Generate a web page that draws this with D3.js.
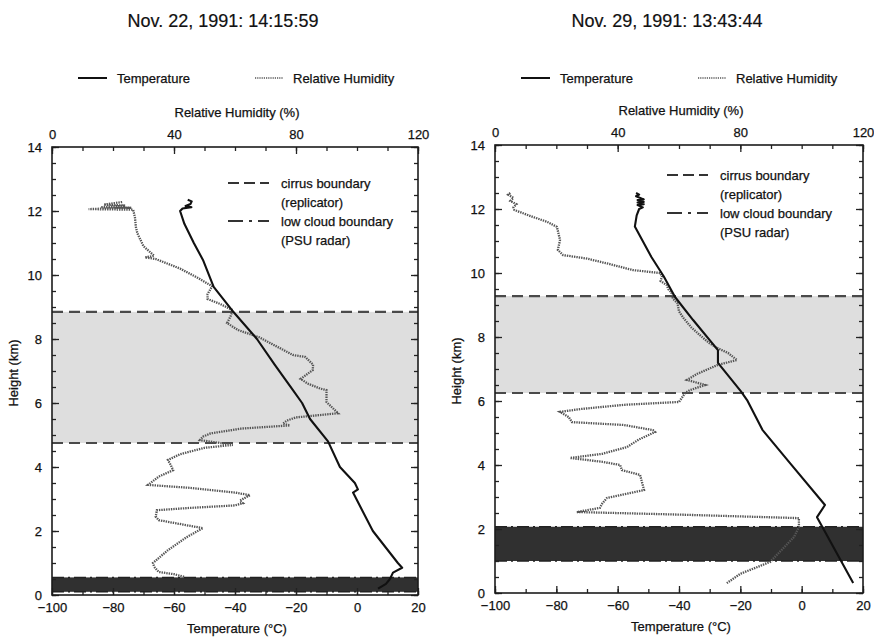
<!DOCTYPE html>
<html>
<head>
<meta charset="utf-8">
<script src="https://cdn.jsdelivr.net/npm/d3@7"></script>
<style>
  body { margin: 0; background: #fff; }
  svg { display: block; font-family: "Liberation Sans", Arial, sans-serif; }
  .tick text { font-size: 13px; fill: #111; stroke: #111; stroke-width: 0.25px; }
  .lbl { font-size: 13px; fill: #111; stroke: #111; stroke-width: 0.25px; }
</style>
</head>
<body>
<svg id="chart" width="874" height="638"></svg>
<script>
// ---- data: [height km, value] ----
const titles = ['Nov. 22, 1991: 14:15:59', 'Nov. 29, 1991: 13:43:44'];

const tempNov22 = [
  [12.35, -55.5], [12.3, -54.2], [12.22, -54.6], [12.16, -56.2], [12.12, -54.3],
  [12.08, -57.2], [12.0, -58.0], [11.6, -56.6], [11.0, -53.5], [10.47, -50.5],
  [9.63, -47.0], [8.9, -41.0], [8.0, -32.8], [7.2, -27.0], [6.4, -21.0],
  [6.0, -18.0], [5.5, -15.4], [4.8, -9.5], [4.0, -5.6], [3.5, -0.7],
  [3.3, 0.3], [3.2, -1.3], [2.0, 5.2], [1.0, 13.4], [0.85, 14.8],
  [0.7, 11.8], [0.5, 10.8], [0.35, 9.5], [0.2, 6.9]
];

const rhNov22 = [
  [12.28, 23], [12.2, 17], [12.17, 24], [12.12, 16], [12.1, 26], [12.06, 12],
  [12.04, 26.6], [11.8, 27.2], [11.5, 27.5], [11.3, 28], [10.9, 30], [10.6, 33.5],
  [10.55, 30.5], [10.5, 34], [10.2, 42], [9.9, 48], [9.65, 52.5], [9.4, 51],
  [9.25, 51], [9.1, 55], [8.9, 59.3], [8.7, 58.5], [8.5, 57.4], [8.4, 59],
  [8.28, 61], [8.05, 68], [7.7, 75], [7.5, 79], [7.44, 83], [7.2, 85.6],
  [7.03, 85.5], [6.75, 81.5], [6.6, 84], [6.45, 88], [6.4, 90], [6.03, 90],
  [5.8, 92.5], [5.68, 93.8], [5.55, 80], [5.45, 77], [5.35, 75.7], [5.3, 78],
  [5.2, 62], [5.05, 52], [4.95, 49.5], [4.84, 48.5], [4.75, 55], [4.69, 59.3],
  [4.6, 50], [4.4, 42], [4.22, 38], [4.05, 39], [3.9, 39.7], [3.7, 35],
  [3.44, 31.5], [3.35, 45], [3.2, 60], [3.12, 64.9], [2.95, 61.6], [2.87, 62.6],
  [2.8, 60], [2.72, 45], [2.65, 34.4], [2.45, 34], [2.34, 35], [2.2, 43],
  [2.09, 49.5], [1.8, 44], [1.4, 38], [1.0, 33.1], [0.88, 33.5], [0.72, 35],
  [0.65, 40], [0.56, 43.6]
];

const tempNov29 = [
  [12.5, -54.0], [12.45, -53.0], [12.4, -54.0], [12.3, -51.5], [12.28, -53.5],
  [12.22, -51.5], [12.2, -53.5], [12.15, -51.5], [12.12, -53.5], [12.05, -51.8],
  [12.0, -53.0], [11.8, -53.8], [11.45, -54.4], [10.5, -49.0], [9.9, -45.0],
  [9.25, -41.3], [8.53, -35.4], [7.59, -27.3], [7.19, -27.3], [6.3, -19.8],
  [6.03, -17.8], [5.1, -12.8], [4.06, -3.8], [2.75, 7.6], [2.37, 5.0], [0.31, 16.8]
];

const rhNov29 = [
  [12.5, 5], [12.45, 4.3], [12.35, 6], [12.25, 5], [12.15, 7], [12.05, 6],
  [11.97, 6.3], [11.75, 12.4], [11.6, 17], [11.44, 20.2], [11.03, 21.2],
  [10.72, 20.5], [10.56, 22.2], [10.45, 30], [10.3, 36.5], [10.09, 45],
  [10.0, 53.8], [9.9, 54.5], [9.75, 54], [9.62, 56], [9.5, 56.5], [9.4, 57.5],
  [9.2, 58], [9.06, 59.5], [8.8, 60], [8.59, 61.5], [8.3, 64], [8.0, 67.5],
  [7.8, 70], [7.66, 72.4], [7.5, 76], [7.28, 78.9], [7.13, 72.7], [6.85, 66],
  [6.66, 62.6], [6.5, 68.5], [6.34, 63.6], [6.25, 62], [5.97, 60], [5.88, 42],
  [5.75, 28], [5.66, 21.2], [5.5, 24], [5.34, 25.1], [5.25, 42], [5.09, 51.5],
  [5.03, 52.2], [4.8, 47], [4.56, 43], [4.35, 35], [4.22, 24.5], [4.1, 35],
  [4.0, 40.8], [3.84, 41.4], [3.69, 47.3], [3.22, 48.6], [2.97, 36.5], [2.8, 35],
  [2.66, 34.2], [2.53, 26.7], [2.45, 60], [2.34, 99.1], [2.06, 99.1], [1.75, 97.5],
  [1.3, 93], [0.97, 89.7], [0.6, 80], [0.31, 75.6]
];

// cloud layers [bottom, top] in km
const cirrusNov22 = [4.75, 8.85];
const lowCloudNov22 = [0.1, 0.55];
const cirrusNov29 = [6.25, 9.28];
const lowCloudNov29 = [1.0, 2.07];

const tempTicks = [-100, -80, -60, -40, -20, 0, 20];
const rhTicks = [0, 40, 80, 120];
const heightTicks = [0, 2, 4, 6, 8, 10, 12, 14];

const svg = d3.select('#chart');

const panels = [
  { title: titles[0], temp: tempNov22, rh: rhNov22, cirrus: cirrusNov22, low: lowCloudNov22,
    x0: 52, x1: 418, y0: 147, y1: 595, legY: 183, legX: 176 },
  { title: titles[1], temp: tempNov29, rh: rhNov29, cirrus: cirrusNov29, low: lowCloudNov29,
    x0: 495, x1: 863, y0: 145, y1: 593, legY: 175, legX: 172 }
];

function drawPanel(p) {
  const g = svg.append('g');
  const x = d3.scaleLinear().domain([-100, 20]).range([p.x0, p.x1]);
  const xRH = d3.scaleLinear().domain([0, 120]).range([p.x0, p.x1]);
  const y = d3.scaleLinear().domain([0, 14]).range([p.y1, p.y0]);
  const cx = (p.x0 + p.x1) / 2;

  // cloud layers
  g.append('rect')
    .attr('x', p.x0).attr('width', p.x1 - p.x0)
    .attr('y', y(p.cirrus[1])).attr('height', y(p.cirrus[0]) - y(p.cirrus[1]))
    .attr('fill', '#dedede');
  g.append('rect')
    .attr('x', p.x0).attr('width', p.x1 - p.x0)
    .attr('y', y(p.low[1])).attr('height', y(p.low[0]) - y(p.low[1]))
    .attr('fill', '#303030');

  p.cirrus.forEach(h => {
    g.append('line')
      .attr('x1', p.x0).attr('x2', p.x1).attr('y1', y(h)).attr('y2', y(h))
      .attr('stroke', '#4a4a4a').attr('stroke-width', 2.2)
      .attr('stroke-dasharray', '11,6');
  });
  p.low.forEach(h => {
    g.append('line')
      .attr('x1', p.x0).attr('x2', p.x1).attr('y1', y(h)).attr('y2', y(h))
      .attr('stroke', '#222').attr('stroke-width', 1.5)
      .attr('stroke-dasharray', '12,4,2,4');
  });

  // axes, ticks pointing inward
  const bottomMinor = d3.axisBottom(x).tickValues(d3.range(-100, 21, 10)).tickSize(-4).tickFormat('');
  const bottomMajor = d3.axisBottom(x).tickValues(tempTicks).tickSize(-7).tickPadding(8);
  const topMinor = d3.axisTop(xRH).tickValues(d3.range(0, 121, 10)).tickSize(-4).tickFormat('');
  const topMajor = d3.axisTop(xRH).tickValues(rhTicks).tickSize(-7).tickPadding(8);
  const leftMinor = d3.axisLeft(y).tickValues(d3.range(0, 14.01, 0.5)).tickSize(-4).tickFormat('');
  const leftMajor = d3.axisLeft(y).tickValues(heightTicks).tickSize(-7).tickPadding(10);
  const rightMinor = d3.axisRight(y).tickValues(d3.range(0, 14.01, 0.5)).tickSize(-4).tickFormat('');
  const rightMajor = d3.axisRight(y).tickValues(heightTicks).tickSize(-7).tickFormat('');

  [[bottomMinor, `translate(0,${p.y1})`], [bottomMajor, `translate(0,${p.y1})`],
   [topMinor, `translate(0,${p.y0})`], [topMajor, `translate(0,${p.y0})`],
   [leftMinor, `translate(${p.x0},0)`], [leftMajor, `translate(${p.x0},0)`],
   [rightMinor, `translate(${p.x1},0)`], [rightMajor, `translate(${p.x1},0)`]]
    .forEach(([ax, tr]) => {
      const a = g.append('g').attr('transform', tr).call(ax);
      a.select('.domain').remove();
      a.selectAll('line').attr('stroke', '#222').attr('stroke-width', 1.3);
      a.selectAll('text').attr('font-family', null).attr('font-size', null);
    });

  // frame
  g.append('rect')
    .attr('x', p.x0).attr('y', p.y0)
    .attr('width', p.x1 - p.x0).attr('height', p.y1 - p.y0)
    .attr('fill', 'none').attr('stroke', '#1c1c1c').attr('stroke-width', 1.6);

  // profiles
  const tempLine = d3.line().x(d => x(d[1])).y(d => y(d[0]));
  const rhLine = d3.line().x(d => xRH(d[1])).y(d => y(d[0]));
  g.append('path').datum(p.rh)
    .attr('d', rhLine).attr('fill', 'none')
    .attr('stroke', '#555').attr('stroke-width', 2.3)
    .attr('stroke-dasharray', '1.4,1');
  g.append('path').datum(p.temp)
    .attr('d', tempLine).attr('fill', 'none')
    .attr('stroke', '#111').attr('stroke-width', 2.1)
    .attr('stroke-linejoin', 'round');

  // boundary legend inside plot
  const lx = p.x0 + p.legX;
  g.append('line').attr('x1', lx).attr('x2', lx + 41).attr('y1', p.legY).attr('y2', p.legY)
    .attr('stroke', '#333').attr('stroke-width', 2).attr('stroke-dasharray', '11,5');
  g.append('line').attr('x1', lx).attr('x2', lx + 41).attr('y1', p.legY + 38).attr('y2', p.legY + 38)
    .attr('stroke', '#333').attr('stroke-width', 2).attr('stroke-dasharray', '15,6,3,6');
  const legText = ['cirrus boundary', '(replicator)', 'low cloud boundary', '(PSU radar)'];
  legText.forEach((t, i) => {
    g.append('text').attr('class', 'lbl')
      .attr('x', lx + 53).attr('y', p.legY + 5 + i * 19)
      .text(t);
  });

  // title, top legend, axis titles
  g.append('text').attr('x', cx - 12).attr('y', 27)
    .attr('text-anchor', 'middle').attr('font-size', 18).attr('fill', '#111')
    .attr('stroke', '#111').attr('stroke-width', 0.2)
    .text(p.title);

  const ly = 78;
  g.append('line').attr('x1', p.x0 + 26).attr('x2', p.x0 + 55).attr('y1', ly).attr('y2', ly)
    .attr('stroke', '#111').attr('stroke-width', 2);
  g.append('text').attr('class', 'lbl').attr('x', p.x0 + 65).attr('y', ly + 5).text('Temperature');
  g.append('line').attr('x1', p.x0 + 203).attr('x2', p.x0 + 231).attr('y1', ly).attr('y2', ly)
    .attr('stroke', '#555').attr('stroke-width', 1.6).attr('stroke-dasharray', '1.2,1');
  g.append('text').attr('class', 'lbl').attr('x', p.x0 + 241).attr('y', ly + 5).text('Relative Humidity');

  g.append('text').attr('class', 'lbl').attr('x', cx + 2).attr('y', p.y0 - 30)
    .attr('text-anchor', 'middle').text('Relative Humidity (%)');
  g.append('text').attr('class', 'lbl').attr('x', cx + 2).attr('y', p.y1 + 38)
    .attr('text-anchor', 'middle').text('Temperature (°C)');
  g.append('text').attr('class', 'lbl')
    .attr('transform', `translate(${p.x0 - 34},${(p.y0 + p.y1) / 2 + 2}) rotate(-90)`)
    .attr('text-anchor', 'middle').text('Height (km)');
}

panels.forEach(drawPanel);
</script>
</body>
</html>
